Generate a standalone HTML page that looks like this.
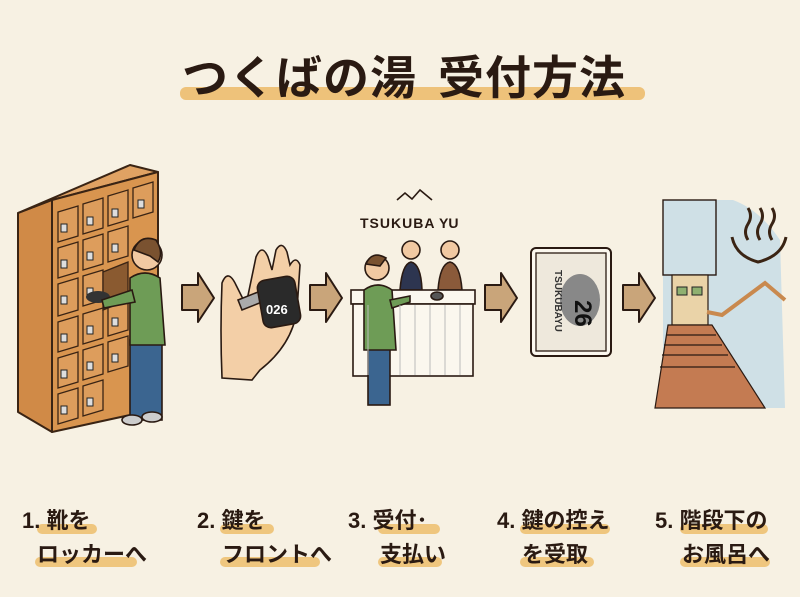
<!DOCTYPE html>
<html><head><meta charset="utf-8"><style>
html,body{margin:0;padding:0;background:#f7f1e3;}
svg{display:block}
text{font-family:"Liberation Sans","Noto Sans CJK JP",sans-serif;font-weight:bold;fill:#2a1a12}
</style></head><body>
<svg width="800" height="597" viewBox="0 0 800 597" xmlns="http://www.w3.org/2000/svg">
<rect width="800" height="597" fill="#f7f1e3"/>
<!-- title -->
<rect x="180" y="87" width="465" height="13" rx="6" fill="#eec27a"/>
<text x="182" y="94" font-size="46" font-family="Noto Sans CJK JP" letter-spacing="1">つくばの湯</text>
<text x="438" y="94" font-size="46" font-family="Noto Sans CJK JP" letter-spacing="1">受付方法</text>

<!-- locker -->
<g stroke="#3a2414" stroke-width="2" stroke-linejoin="round">
<polygon points="18,213 52,200 52,432 18,412" fill="#d08a47"/>
<polygon points="18,213 130,165 158,172 52,200" fill="#e0a263"/>
<polygon points="52,200 158,172 158,400 130,415 52,432" fill="#d9954f"/>
</g>
<g stroke="#3a2414" stroke-width="1.3" fill="#dd9d5c">
<!-- grid of doors -->
<polygon points="58,212 78,206 78,236 58,242"/><polygon points="83,204 103,198 103,228 83,234"/><polygon points="108,196 128,190 128,220 108,226"/><polygon points="133,188 153,182 153,212 133,218"/>
<polygon points="58,248 78,242 78,272 58,278"/><polygon points="83,240 103,234 103,264 83,270"/><polygon points="108,232 128,226 128,256 108,262"/>
<polygon points="58,284 78,278 78,310 58,316"/><polygon points="83,276 103,270 103,300 83,306"/>
<polygon points="58,322 78,316 78,346 58,352"/><polygon points="83,314 103,308 103,338 83,344"/><polygon points="108,306 128,300 128,330 108,336"/>
<polygon points="58,358 78,352 78,382 58,388"/><polygon points="83,350 103,344 103,374 83,380"/><polygon points="108,342 128,336 128,366 108,372"/>
<polygon points="58,394 78,388 78,418 58,424"/><polygon points="83,386 103,380 103,410 83,416"/>
<polygon points="103,272 128,262 128,300 103,310" fill="#8a5a30"/>
</g>
<g fill="#ddd" stroke="#222" stroke-width="1">
<rect x="61" y="224" width="6" height="8"/><rect x="87" y="217" width="6" height="8"/><rect x="112" y="209" width="6" height="8"/><rect x="138" y="200" width="6" height="8"/>
<rect x="61" y="260" width="6" height="8"/><rect x="87" y="252" width="6" height="8"/><rect x="112" y="244" width="6" height="8"/>
<rect x="61" y="296" width="6" height="8"/><rect x="87" y="288" width="6" height="8"/>
<rect x="61" y="334" width="6" height="8"/><rect x="87" y="326" width="6" height="8"/><rect x="112" y="318" width="6" height="8"/>
<rect x="61" y="370" width="6" height="8"/><rect x="87" y="362" width="6" height="8"/><rect x="112" y="354" width="6" height="8"/>
<rect x="61" y="406" width="6" height="8"/><rect x="87" y="398" width="6" height="8"/>
</g>
<!-- shoes -->
<ellipse cx="98" cy="297" rx="12" ry="6" fill="#333"/>
<!-- person 1 -->
<g stroke="#2a1a12" stroke-width="1.6">
<rect x="130" y="340" width="32" height="80" fill="#3b6590"/>
<ellipse cx="132" cy="420" rx="10" ry="5" fill="#ccc"/><ellipse cx="152" cy="417" rx="10" ry="5" fill="#ccc"/>
<path d="M130,278 Q145,268 160,278 L165,345 L130,345 Z" fill="#6e9c56"/>
<path d="M132,290 L102,300 L104,308 L135,302 Z" fill="#6e9c56"/>
<circle cx="147" cy="255" r="15" fill="#f1c9a2"/>
<path d="M134,250 Q140,234 156,240 Q164,252 158,262 L150,256 Z" fill="#7a5230"/>
</g>
<!-- arrows -->
<g fill="#c9a57a" stroke="#2a1a12" stroke-width="2" stroke-linejoin="round">
<polygon points="182,285 198,285 198,273 214,298 198,322 198,310 182,310"/>
<polygon points="310,285 326,285 326,273 342,298 326,322 326,310 310,310"/>
<polygon points="485,285 501,285 501,273 517,298 501,322 501,310 485,310"/>
<polygon points="623,285 639,285 639,273 655,298 639,322 639,310 623,310"/>
</g>
<!-- hand -->
<g stroke="#2a1a12" stroke-width="1.6">
<path d="M222,283 Q228,268 236,285 L246,305 L256,257 Q262,243 268,257 L272,270 L276,250 Q282,240 287,252 L290,265 Q296,255 300,265 L297,310 Q292,345 260,370 L252,380 L222,378 Q220,330 222,283 Z" fill="#f3cfa7"/>
<path d="M238,300 L258,292 L262,302 L242,310 Z" fill="#aaa"/>
<rect x="260" y="278" width="38" height="48" rx="8" fill="#2a2a2a" transform="rotate(-10 279 302)"/>
</g>
<text x="266" y="314" font-size="13" fill="#fff" style="fill:#fff">026</text>

<!-- reception -->
<g stroke="#2a1a12" stroke-width="1.6" fill="none">
<path d="M397,200 L405,193 L412,199 L420,190 L432,200"/>
</g>
<text x="360" y="228" font-size="14" letter-spacing="1">TSUKUBA</text><text x="439" y="228" font-size="14">YU</text>
<g stroke="#2a1a12" stroke-width="1.6">
<circle cx="411" cy="250" r="9" fill="#f1c9a2"/><circle cx="450" cy="250" r="9" fill="#f1c9a2"/>
<path d="M400,290 Q402,264 411,262 Q421,264 422,290 Z" fill="#2d3550"/>
<path d="M438,290 Q440,264 450,262 Q460,264 462,290 Z" fill="#8a5a3a"/>
<rect x="351" y="290" width="124" height="14" fill="#fbf7ee"/>
<rect x="353" y="304" width="120" height="72" fill="#fbf7ee"/>
<rect x="368" y="345" width="22" height="60" fill="#3b6590"/>
<path d="M364,290 Q378,280 392,290 L396,350 L364,350 Z" fill="#6e9c56"/>
<path d="M390,300 L410,296 L410,302 L392,308 Z" fill="#6e9c56"/>
<circle cx="377" cy="268" r="12" fill="#f1c9a2"/>
<path d="M366,264 Q372,250 386,258 L380,266 Z" fill="#7a5230"/>
<ellipse cx="437" cy="296" rx="6" ry="4" fill="#555"/>
</g>
<g stroke="#bbb" stroke-width="1"><line x1="368" y1="305" x2="368" y2="375"/><line x1="400" y1="305" x2="400" y2="375"/><line x1="415" y1="305" x2="415" y2="375"/><line x1="430" y1="305" x2="430" y2="375"/><line x1="445" y1="305" x2="445" y2="375"/><line x1="460" y1="305" x2="460" y2="375"/></g>

<!-- card -->
<rect x="531" y="248" width="80" height="108" rx="5" fill="#fbf7ee" stroke="#2a1a12" stroke-width="2"/>
<rect x="536" y="253" width="70" height="98" fill="#eee8dc" stroke="#2a1a12" stroke-width="1.3"/>
<ellipse cx="580" cy="300" rx="20" ry="26" fill="#888"/>
<text x="590" y="315" font-size="24" transform="rotate(90 590 300)" style="fill:#111">26</text>
<text x="555" y="270" font-size="10" transform="rotate(90 555 270)" style="fill:#333">TSUKUBAYU</text>

<!-- bath scene -->
<path d="M663,200 L733,200 Q760,210 780,240 L785,408 L663,408 Z" fill="#cfe0e6"/>
<rect x="663" y="200" width="53" height="75" fill="#cfe0e6" stroke="#2a1a12" stroke-width="1.4"/>
<rect x="672" y="275" width="36" height="50" fill="#ead3a8" stroke="#2a1a12" stroke-width="1.2"/>
<rect x="677" y="287" width="10" height="8" fill="#8fb070" stroke="#222"/><rect x="692" y="287" width="10" height="8" fill="#8fb070" stroke="#222"/>
<polygon points="668,325 712,325 765,408 655,408" fill="#c47b52" stroke="#2a1a12" stroke-width="1.2"/>
<g stroke="#2a1a12" stroke-width="1.2"><line x1="666" y1="335" x2="716" y2="335"/><line x1="664" y1="345" x2="722" y2="345"/><line x1="662" y1="355" x2="728" y2="355"/><line x1="660" y1="367" x2="735" y2="367"/></g>
<path d="M707,312 L722,315 L765,283 L785,300" fill="none" stroke="#c9894e" stroke-width="4"/>
<g fill="none" stroke="#3a2414" stroke-width="3">
<path d="M732,237 Q736,256 758,262 Q782,256 786,237"/>
<path d="M748,240 Q743,232 748,224 Q753,216 748,208"/><path d="M760,240 Q755,232 760,224 Q765,216 760,208"/><path d="M772,240 Q767,232 772,224 Q777,216 772,208"/>
</g>

<!-- labels -->
<g fill="#efc67e">
<rect x="37" y="524" width="60" height="10" rx="5"/><rect x="35" y="557" width="102" height="10" rx="5"/>
<rect x="220" y="524" width="54" height="10" rx="5"/><rect x="220" y="557" width="100" height="10" rx="5"/>
<rect x="378" y="524" width="62" height="10" rx="5"/><rect x="378" y="557" width="64" height="10" rx="5"/>
<rect x="520" y="524" width="90" height="10" rx="5"/><rect x="520" y="557" width="74" height="10" rx="5"/>
<rect x="680" y="524" width="88" height="10" rx="5"/><rect x="680" y="557" width="90" height="10" rx="5"/>
</g>
<g font-size="22" font-family="Noto Sans CJK JP">
<text x="22" y="528">1. 靴を</text><text x="37" y="562">ロッカーへ</text>
<text x="197" y="528">2. 鍵を</text><text x="222" y="562">フロントへ</text>
<text x="348" y="528">3. 受付･</text><text x="380" y="562">支払い</text>
<text x="497" y="528">4. 鍵の控え</text><text x="522" y="562">を受取</text>
<text x="655" y="528">5. 階段下の</text><text x="682" y="562">お風呂へ</text>
</g>
</svg>
</body></html>
